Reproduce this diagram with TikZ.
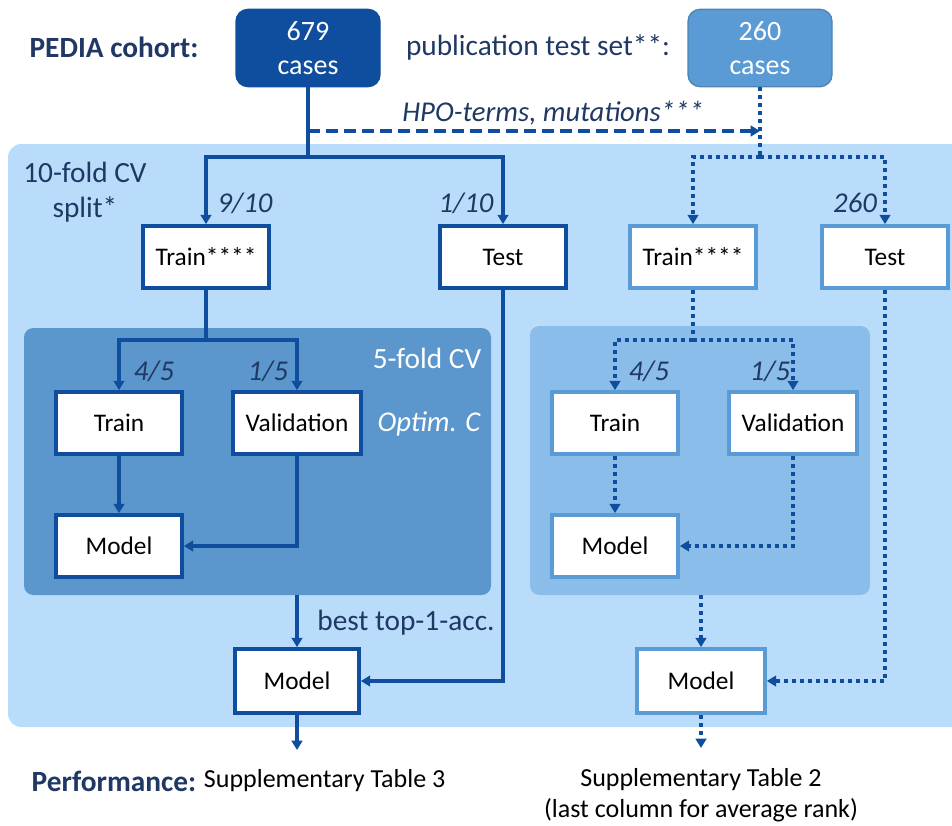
\documentclass[tikz,border=0pt]{standalone}
\usepackage{fontspec}
\setmainfont{Carlito}
\usetikzlibrary{arrows.meta}

\definecolor{dblue}{HTML}{0F4E9E}
\definecolor{mblue}{HTML}{5B9BD5}
\definecolor{navy}{HTML}{1F3864}
\definecolor{panelA}{HTML}{BADCFB}
\definecolor{panelB}{HTML}{5B96CC}
\definecolor{panelC}{HTML}{8BBDEA}

\tikzset{
  box/.style={draw=dblue,line width=2.8pt,fill=white,minimum width=94.5pt,minimum height=46.5pt,inner sep=0pt,font=\fontsize{19}{22}\selectfont},
  boxB/.style={box,draw=mblue},
  cases/.style={rounded corners=9pt,draw=dblue,line width=1pt,fill=dblue,text=white,minimum width=108pt,minimum height=58pt,align=center,font=\fontsize{21}{26}\selectfont},
  lbl/.style={text=navy,font=\fontsize{21.5}{22}\selectfont\itshape},
  txt/.style={text=navy,font=\fontsize{22}{22}\selectfont},
  sline/.style={draw=dblue,line width=3pt},
  tline/.style={draw=dblue,line width=3pt,dash pattern=on 3pt off 3pt},
  dline/.style={draw=dblue,line width=3pt,dash pattern=on 9pt off 4.5pt},
  tip/.style={-{Triangle[length=7pt,width=8pt]}}
}

\begin{document}
\begin{tikzpicture}[x=0.75pt,y=-0.75pt]
\useasboundingbox (0,0) rectangle (952,825);

% panels
\fill[panelA,rounded corners=10pt] (8,144) rectangle (975,727);
\fill[panelB,rounded corners=7pt] (24,328) rectangle (491,595);
\fill[panelC,rounded corners=7pt] (530,326) rectangle (870,595);

% top row
\node[font=\fontsize{22}{22}\selectfont\bfseries,text=navy] (ped) at (114,47) {PEDIA cohort:};
\node[cases] (c679) at (308,48) {679\\cases};
\node[txt] (pub) at (538,47) {publication test set**:};
\node[cases,fill=mblue,draw=mblue!85!black] (c260) at (760,48) {260\\cases};

\node[txt] (cvA) at (85,172) {10-fold CV};
\node[txt] (cvB) at (85,209) {split*};

% boxes
\node[box] (trainA) at (206,257) {Train****};
\node[box] (testA) at (503,257) {Test};
\node[boxB] (trainB) at (693,257) {Train****};
\node[boxB] (testB) at (885,257) {Test};

\node[box] (trainL) at (119,423) {Train};
\node[box,minimum width=96pt] (valL) at (297,423) {Validation};
\node[box] (modelL) at (119,546) {Model};
\node[boxB] (trainR) at (615,423) {Train};
\node[boxB,minimum width=96pt] (valR) at (793,423) {Validation};
\node[boxB] (modelR) at (615,546) {Model};

\node[box,minimum width=93pt,minimum height=48pt] (modelA) at (297,681) {Model};
\node[boxB,minimum width=96pt,minimum height=48pt] (modelB) at (701,681) {Model};

% labels
\node[lbl] (l910) at (245,203) {9/10};
\node[lbl] (l110) at (466,203) {1/10};
\node[lbl] (l260) at (855,203) {260};
\node[lbl] (l45a) at (154,371) {4/5};
\node[lbl] (l15a) at (268,371) {1/5};
\node[lbl] (l45b) at (649,371) {4/5};
\node[lbl] (l15b) at (770,371) {1/5};
\node[txt,text=white] (five) at (427,358) {5-fold CV};
\node[lbl,text=white] (optim) at (429,424) {Optim. C};
\node[lbl] (hpo) at (553,113) {HPO-terms, mutations***};
\node[txt] (best) at (406,623) {best top-1-acc.};

% bottom text
\node[font=\fontsize{22}{22}\selectfont\bfseries,text=navy] (perf) at (114,781) {Performance:};
\node[font=\fontsize{19.5}{20}\selectfont,anchor=west,inner sep=2pt] (sup3) at (perf.east) {Supplementary Table 3};
\node[font=\fontsize{19.5}{23}\selectfont,align=center] (sup2) at (701,795) {Supplementary Table 2\\(last column for average rank)};

% cohort connectors
\coordinate (j1) at (308,157);
\coordinate (j2) at (308,131);
\coordinate (j3) at (760,157);
\draw[sline] (c679.south) -- (j1);
\draw[sline,tip] (j1) -| (trainA.north);
\draw[sline,tip] (j1) -| (testA.north);
\draw[dline,tip] (j2) -- (c260.south |- j2);
\draw[tline] (c260.south) -- (j3);
\draw[tline,tip] (j3) -| (trainB.north);
\draw[tline,tip] (j3) -| (testB.north);

% inner CV left
\coordinate (j4) at (206,340);
\draw[sline] (trainA.south) -- (j4);
\draw[sline,tip] (j4) -| (trainL.north);
\draw[sline,tip] (j4) -| (valL.north);
\draw[sline,tip] (trainL.south) -- (modelL.north);
\draw[sline,tip] (valL.south) |- (modelL.east);

% inner CV right
\coordinate (j5) at (693,340);
\draw[tline] (trainB.south) -- (j5);
\draw[tline,tip] (j5) -| (trainR.north);
\draw[tline,tip] (j5) -| (valR.north);
\draw[tline,tip] (trainR.south) -- (modelR.north);
\draw[tline,tip] (valR.south) |- (modelR.east);

% final models
\coordinate (p1) at (297,595);
\coordinate (p2) at (701,595);
\coordinate (o1) at (297,750);
\coordinate (o2) at (701,748);
\draw[sline,tip] (p1) -- (modelA.north);
\draw[sline,tip] (testA.south) |- (modelA.east);
\draw[sline,tip] (modelA.south) -- (o1);
\draw[tline,tip] (p2) -- (modelB.north);
\draw[tline,tip] (testB.south) |- (modelB.east);
\draw[tline,tip] (modelB.south) -- (o2);

\end{tikzpicture}
\end{document}
